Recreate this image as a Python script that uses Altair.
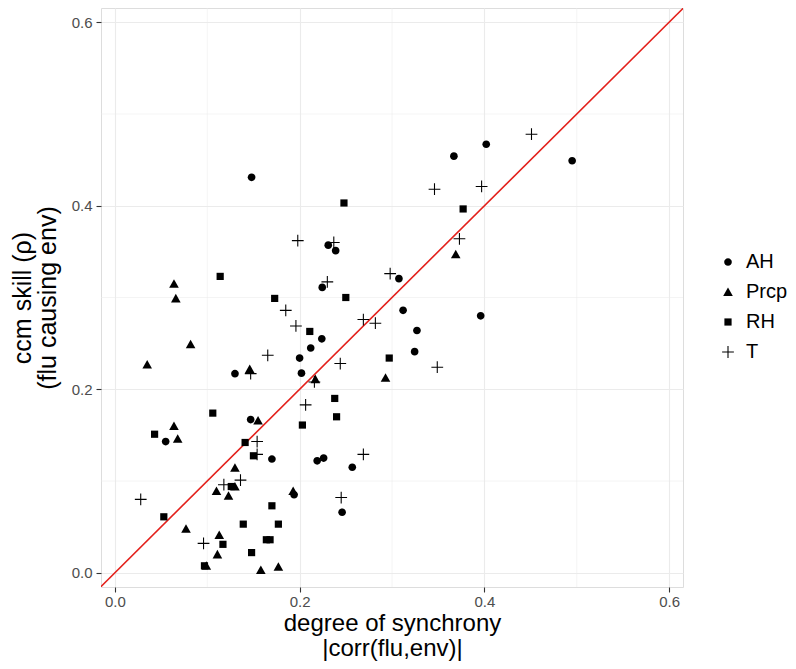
import altair as alt
import pandas as pd

# ---- data ----
ah_x = [0.148, 0.130, 0.147, 0.055, 0.202, 0.170, 0.219, 0.226, 0.257, 0.194, 0.246,
        0.231, 0.239, 0.3075, 0.2245, 0.312, 0.224, 0.212, 0.327, 0.3245, 0.200,
        0.402, 0.367, 0.495, 0.396]
ah_y = [0.431, 0.217, 0.167, 0.143, 0.2175, 0.124, 0.122, 0.125, 0.115, 0.085, 0.066,
        0.357, 0.351, 0.3205, 0.311, 0.286, 0.255, 0.245, 0.264, 0.241, 0.234,
        0.467, 0.454, 0.449, 0.280]

prcp_x = [0.064, 0.066, 0.082, 0.035, 0.146, 0.155, 0.064, 0.068, 0.130, 0.130, 0.110,
          0.123, 0.077, 0.113, 0.111, 0.099, 0.158, 0.217, 0.293, 0.193, 0.177, 0.369]
prcp_y = [0.315, 0.299, 0.249, 0.227, 0.222, 0.166, 0.160, 0.146, 0.1145, 0.094, 0.089,
          0.084, 0.048, 0.041, 0.020, 0.0076, 0.003, 0.211, 0.2125, 0.089, 0.0065, 0.347]

rh_x = [0.114, 0.106, 0.043, 0.141, 0.150, 0.126, 0.053, 0.139, 0.117, 0.148, 0.097,
        0.238, 0.240, 0.203, 0.170, 0.177, 0.164, 0.168, 0.248, 0.173, 0.250, 0.211,
        0.297, 0.377]
rh_y = [0.323, 0.174, 0.151, 0.142, 0.1275, 0.094, 0.061, 0.053, 0.031, 0.022, 0.0076,
        0.190, 0.170, 0.161, 0.073, 0.053, 0.036, 0.036, 0.403, 0.299, 0.300, 0.263,
        0.234, 0.3965]

t_x = [0.147, 0.154, 0.154, 0.118, 0.136, 0.028, 0.096, 0.216, 0.244, 0.2065, 0.269,
       0.245, 0.198, 0.237, 0.298, 0.230, 0.185, 0.269, 0.282, 0.196, 0.1655, 0.451,
       0.346, 0.397, 0.373, 0.349]
t_y = [0.217, 0.143, 0.129, 0.096, 0.101, 0.080, 0.032, 0.208, 0.228, 0.183, 0.129,
       0.082, 0.362, 0.360, 0.326, 0.317, 0.286, 0.276, 0.272, 0.269, 0.237, 0.478,
       0.418, 0.421, 0.364, 0.224]

categories = ["AH", "Prcp", "RH", "T"]
tick_values = [0.0, 0.2, 0.4, 0.6]
minor_values = [0.1, 0.3, 0.5]
x_limits = [-0.015, 0.615]
y_limits = [-0.0155, 0.6155]

rows = []
for name, xs_, ys_ in [("AH", ah_x, ah_y), ("Prcp", prcp_x, prcp_y),
                       ("RH", rh_x, rh_y), ("T", t_x, t_y)]:
    for a, b in zip(xs_, ys_):
        rows.append({"sync": a, "skill": b, "var": name})
df = pd.DataFrame(rows)

line_df = pd.DataFrame({"v": [min(x_limits[0], y_limits[0]), max(x_limits[1], y_limits[1])]})
minor_df = pd.DataFrame({"m": minor_values})

FONT = "Liberation Sans"
# filled glyphs (unit box -1..1, drawn at size 144 -> 6 px per unit)
circle_p = "M0.64,0A0.64,0.64,0,1,1,-0.64,0A0.64,0.64,0,1,1,0.64,0Z"
tri_p = "M0,-0.76L0.8,0.66L-0.8,0.66Z"
sq_p = "M-0.6,-0.6H0.6V0.6H-0.6Z"
plus_p = ("M-0.98,-0.09H-0.09V-0.98H0.09V-0.09H0.98V0.09H0.09V0.98"
          "H-0.09V0.09H-0.98Z")

xs = alt.Scale(domain=x_limits, nice=False, zero=False)
ys = alt.Scale(domain=y_limits, nice=False, zero=False)

x_axis = alt.Axis(values=tick_values, format=".1f", title=["degree of synchrony", "|corr(flu,env)|"],
                  grid=True, gridColor="#EBEBEB", gridWidth=1.1, domain=False,
                  tickColor="#333333", tickSize=5, tickWidth=1.1,
                  labelFont=FONT, labelFontSize=15, labelColor="#4D4D4D", labelPadding=2,
                  titleFont=FONT, titleFontSize=24, titleFontWeight="normal", titleColor="black",
                  titleBaseline="top", titleY=24, titleLineHeight=25)
y_axis = alt.Axis(values=tick_values, format=".1f", title=["ccm skill (ρ)", "(flu causing env)"],
                  grid=True, gridColor="#EBEBEB", gridWidth=1.1, domain=False,
                  tickColor="#333333", tickSize=5, tickWidth=1.1,
                  labelFont=FONT, labelFontSize=15, labelColor="#4D4D4D", labelPadding=4,
                  titleFont=FONT, titleFontSize=25, titleFontWeight="normal", titleColor="black",
                  titleAngle=270, titleBaseline="top", titleX=-91, titleLineHeight=25)

minor_x = alt.Chart(minor_df).mark_rule(color="#EBEBEB", strokeWidth=0.55).encode(
    x=alt.X("m:Q", scale=xs, axis=x_axis))
minor_y = alt.Chart(minor_df).mark_rule(color="#EBEBEB", strokeWidth=0.55).encode(
    y=alt.Y("m:Q", scale=ys, axis=y_axis))

points = alt.Chart(df).mark_point(filled=True, color="black", size=144, opacity=1).encode(
    x=alt.X("sync:Q", scale=xs, axis=x_axis),
    y=alt.Y("skill:Q", scale=ys, axis=y_axis),
    shape=alt.Shape("var:N",
                    scale=alt.Scale(domain=categories, range=[circle_p, tri_p, sq_p, plus_p]),
                    legend=alt.Legend(title=None, orient="none", legendX=617, legendY=244,
                                      padding=0, labelFont=FONT, labelFontSize=20,
                                      labelColor="black", labelOffset=8, rowPadding=10,
                                      symbolSize=144, symbolFillColor="black",
                                      symbolStrokeWidth=0, symbolOpacity=1)),
)

diag = alt.Chart(line_df).mark_line(color="#E3201B", strokeWidth=1.6, clip=True).encode(
    x=alt.X("v:Q", scale=xs, axis=x_axis),
    y=alt.Y("v:Q", scale=ys, axis=y_axis),
)

chart = alt.layer(minor_x, minor_y, diag, points).properties(
    width=582, height=579,
    autosize=alt.AutoSizeParams(type="none"),
    padding={"left": 93, "top": 0, "right": 105, "bottom": 74},
).configure_view(stroke="#333333", strokeWidth=1.1).configure(background="white")

chart.save("out.html", embed_options={"renderer": "svg", "actions": False})
